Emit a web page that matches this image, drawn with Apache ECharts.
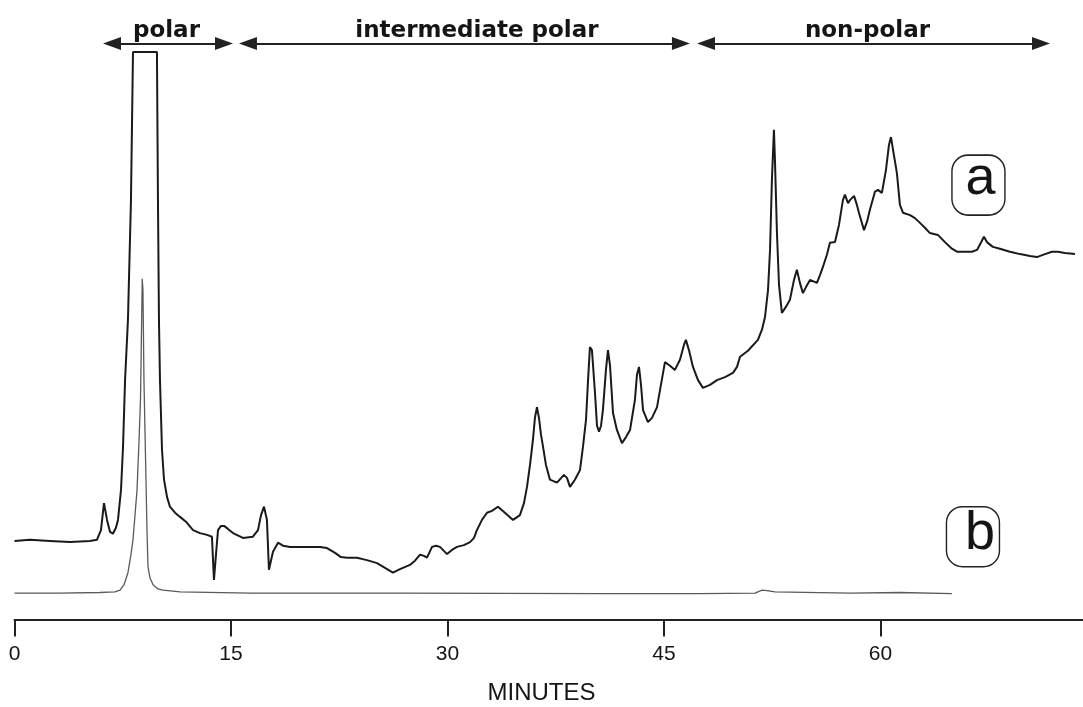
<!DOCTYPE html>
<html>
<head>
<meta charset="utf-8">
<title>Chromatogram – polarity fractions</title>
<script src="https://cdn.jsdelivr.net/npm/echarts@6/dist/echarts.min.js"></script>
<style>
  html, body { margin: 0; padding: 0; background: #ffffff; }
  #chart { width: 1083px; height: 707px; }
</style>
</head>
<body>
<div id="chart"></div>
<script>
// Trace a: [retention time (min), detector response (relative units)]
// the main polar peak runs off scale, so its top is flat at the recorder limit
const traceA = [
  [0,13.1],[1.07,13.3],[2.46,13.1],[3.85,12.9],[5.23,13.1],[5.72,13.3],[5.99,14.9],[6.20,19.4],[6.41,16.6],[6.62,14.6],
  [6.82,14.3],[7.03,15.3],[7.17,16.6],[7.38,21.6],[7.52,28.8],[7.66,39.9],[7.86,49.9],[8.07,69.9],[8.21,94.6],[9.87,94.6],
  [9.94,69.9],[10.01,49.9],[10.08,39.9],[10.22,28.3],[10.36,23.3],[10.57,20.4],[10.77,18.8],[11.12,17.8],[11.47,17.1],[11.88,16.3],
  [12.37,14.9],[12.85,14.4],[13.34,14.1],[13.68,13.8],[13.82,6.6],[13.96,10.8],[14.10,14.9],[14.31,15.6],[14.52,15.6],[14.79,15.1],
  [15.14,14.4],[15.83,13.6],[16.52,13.8],[16.87,14.9],[17.08,17.4],[17.29,18.8],[17.49,16.6],[17.63,8.3],[17.91,11.3],[18.26,12.8],
  [18.60,12.3],[19.09,12.1],[19.78,12.1],[20.47,12.1],[21.17,12.1],[21.65,11.9],[22.21,11.1],[22.62,10.4],[23.04,10.3],[23.73,10.3],
  [24.42,9.9],[25.12,9.4],[25.67,8.6],[26.22,7.8],[26.71,8.4],[27.40,9.1],[27.75,9.8],[28.10,10.8],[28.37,10.6],[28.58,10.3],
  [28.93,12.1],[29.20,12.3],[29.48,12.1],[29.97,10.9],[30.31,11.6],[30.66,12.1],[31.14,12.4],[31.56,12.9],[31.84,13.6],[32.04,14.9],
  [32.39,16.6],[32.74,17.8],[33.08,18.1],[33.50,18.8],[33.98,17.8],[34.54,16.6],[35.02,17.4],[35.30,19.4],[35.51,22.1],[35.72,25.8],
  [35.92,29.9],[36.06,33.6],[36.20,35.4],[36.34,33.6],[36.48,30.8],[36.62,28.8],[36.82,25.8],[37.10,23.3],[37.59,22.8],[38.07,24.1],
  [38.28,23.6],[38.49,22.1],[38.83,23.3],[39.18,24.9],[39.39,28.8],[39.60,33.3],[39.74,39.9],[39.87,45.4],[40.01,44.9],[40.22,37.8],
  [40.36,32.3],[40.50,31.3],[40.64,32.3],[40.77,34.9],[40.98,41.6],[41.12,44.9],[41.26,42.4],[41.47,34.4],[41.74,31.6],[42.09,29.4],
  [42.37,30.4],[42.65,31.6],[42.99,36.6],[43.13,40.8],[43.27,42.1],[43.41,39.1],[43.55,34.9],[43.89,32.9],[44.17,33.6],[44.52,35.4],
  [44.79,39.1],[45.07,42.9],[45.42,42.3],[45.76,41.6],[46.11,43.3],[46.39,45.8],[46.52,46.6],[46.73,44.9],[47.01,42.1],[47.36,39.9],
  [47.70,38.6],[48.19,39.1],[48.67,39.9],[49.23,40.4],[49.78,41.1],[50.06,42.1],[50.27,43.8],[50.82,44.8],[51.51,46.6],[51.79,48.3],
  [52.00,50.4],[52.21,54.9],[52.35,61.6],[52.48,73.3],[52.62,81.6],[52.69,76.6],[52.83,64.4],[52.97,55.8],[53.17,51.1],[53.45,52.1],
  [53.73,53.3],[54.01,56.6],[54.21,58.3],[54.42,56.1],[54.63,54.4],[54.84,55.4],[55.12,56.6],[55.60,56.1],[55.81,57.4],[56.02,58.8],
  [56.29,60.8],[56.50,62.8],[56.85,62.9],[57.13,65.8],[57.40,69.9],[57.54,70.8],[57.75,69.4],[57.89,69.9],[58.17,70.6],[58.37,69.1],
  [58.51,67.8],[58.86,64.9],[59.07,66.3],[59.27,68.3],[59.62,71.3],[59.83,71.6],[60.10,71.1],[60.38,74.9],[60.59,79.1],[60.73,80.4],
  [60.87,78.3],[61.14,74.4],[61.35,69.1],[61.56,67.8],[62.05,67.4],[62.39,66.9],[62.74,66.1],[63.08,65.3],[63.43,64.4],[63.98,64.1],
  [64.47,62.9],[64.95,61.8],[65.30,61.3],[65.99,61.3],[66.34,61.3],[66.69,61.6],[66.96,62.8],[67.17,63.8],[67.38,62.9],[67.79,62.1],
  [68.28,61.8],[68.97,61.3],[69.67,60.9],[70.36,60.6],[70.84,60.4],[71.40,60.9],[71.88,61.3],[72.30,61.3],[72.78,61.1],[73.48,60.9]
];

// Trace b: [retention time (min), detector response (relative units)]
const traceB = [
  [0,4.4],[3.15,4.4],[5.92,4.5],[6.96,4.6],[7.31,4.9],[7.59,5.8],[7.86,7.8],[8.07,10.8],[8.21,13.3],[8.35,17.4],
  [8.49,21.6],[8.63,29.9],[8.73,36.6],[8.80,48.3],[8.85,56.8],[8.90,54.9],[8.97,39.9],[9.04,31.6],[9.11,23.3],[9.18,14.9],
  [9.25,8.8],[9.39,6.9],[9.60,5.8],[9.94,5.1],[10.29,4.9],[11.47,4.6],[16.32,4.4],[26.71,4.4],[40.57,4.3],[47.50,4.3],
  [51.31,4.4],[51.79,4.9],[52.14,4.8],[52.69,4.6],[57.89,4.4],[61.35,4.5],[64.95,4.3]
];

// Time axis ticks (min)
const tickMinutes = [0, 15, 30, 45, 60];

// Polarity fractions: name, collection window (min) and label centre (min)
const fractionNames = ['polar', 'intermediate polar', 'non-polar'];
const fractionStart = [6.13, 15.55, 47.29];
const fractionEnd   = [15.14, 46.80, 71.75];
const fractionLabelAt = [10.53, 32.04, 59.10];

// Trace tags and where they sit [time, response]
const traceTags = ['a', 'b'];
const traceTagAt = [[66.79, 72.4], [66.41, 13.8]];
const traceTagTextShift = [[2, -6], [7, -3]];

const ARROW_LEVEL = 96.0;
const FRACTION_TEXT_LEVEL = 98.1;
// arrowheads are centred on the line ends, so pull the ends in by half a head
const ARROW_HEAD = 18;                        // px, along the line
const ARROW_INSET = (ARROW_HEAD / 2) / 14.43; // in minutes
const ink = '#151515';
const roundBox = 'path://M16,0L37,0A16,16,0,0,1,53,16L53,44A16,16,0,0,1,37,60L16,60A16,16,0,0,1,0,44L0,16A16,16,0,0,1,16,0Z';

const chart = echarts.init(document.getElementById('chart'), null, { renderer: 'canvas' });

const option = {
  animation: false,
  backgroundColor: '#ffffff',
  grid: {
    left: 14.5, right: 0.5, top: 19.5, bottom: 87.5,
    containLabel: false,
    outerBoundsMode: 'none'
  },
  xAxis: {
    type: 'value',
    min: 0,
    max: 74,
    interval: 15,
    name: 'MINUTES',
    nameLocation: 'middle',
    nameGap: 62,
    nameTextStyle: {
      fontFamily: 'Liberation Sans, Arial, sans-serif',
      fontSize: 24,
      color: ink,
      padding: [0, 14, 0, 0]
    },
    axisLine: { show: true, onZero: false, lineStyle: { color: '#222', width: 2 } },
    axisTick: {
      show: true,
      inside: false,
      length: 17,
      customValues: tickMinutes,
      lineStyle: { color: '#222', width: 2 }
    },
    axisLabel: {
      customValues: tickMinutes,
      margin: 24,
      fontFamily: 'Liberation Sans Narrow, Liberation Sans, Arial, sans-serif',
      fontSize: 21,
      color: ink
    },
    splitLine: { show: false }
  },
  yAxis: {
    type: 'value',
    min: 0,
    max: 100,
    show: false
  },
  series: [
    {
      name: 'b',
      type: 'line',
      data: traceB,
      symbol: 'none',
      lineStyle: { color: '#5a5a5a', width: 1.3 },
      z: 2
    },
    {
      name: 'a',
      type: 'line',
      data: traceA,
      symbol: 'none',
      lineStyle: { color: '#1a1a1a', width: 2 },
      z: 3,
      markLine: {
        silent: true,
        animation: false,
        symbol: ['triangle', 'triangle'],
        symbolSize: [13, ARROW_HEAD],
        lineStyle: { type: 'solid', color: '#222', width: 2 },
        label: { show: false },
        data: fractionNames.map((n, i) => [
          { coord: [fractionStart[i] + ARROW_INSET, ARROW_LEVEL] },
          { coord: [fractionEnd[i] - ARROW_INSET, ARROW_LEVEL] }
        ])
      },
      markPoint: {
        silent: true,
        animation: false,
        data: [
          ...fractionNames.map((n, i) => ({
            coord: [fractionLabelAt[i], FRACTION_TEXT_LEVEL],
            symbol: 'circle',
            symbolSize: 0,
            label: {
              show: true,
              position: 'inside',
              formatter: n,
              fontFamily: 'DejaVu Sans, sans-serif',
              fontWeight: 'bold',
              fontSize: 23,
              color: ink
            }
          })),
          ...traceTags.map((t, i) => ({
            coord: traceTagAt[i],
            symbol: roundBox,
            symbolSize: [53, 60],
            itemStyle: { color: '#ffffff', borderColor: '#222', borderWidth: 1.5 },
            label: {
              show: true,
              position: 'inside',
              formatter: t,
              fontFamily: 'Liberation Sans, Arial, sans-serif',
              fontSize: 54,
              color: ink,
              offset: traceTagTextShift[i]
            }
          }))
        ]
      }
    }
  ]
};

chart.setOption(option);
</script>
</body>
</html>
